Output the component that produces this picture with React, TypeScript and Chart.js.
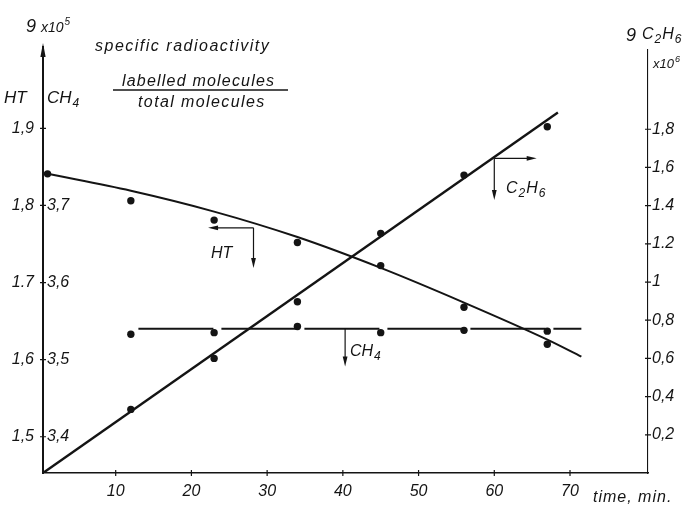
import React, { useEffect, useRef } from "react";
import { Chart, registerables } from "chart.js";

Chart.register(...registerables);

const FONT = '"Liberation Sans", "DejaVu Sans", Arial, sans-serif';
const INK = "#141414";

// axis ticks and labels
const timeTicks = [10, 20, 30, 40, 50, 60, 70];
const htTicks = [1.5, 1.6, 1.7, 1.8, 1.9];
const htTickLabels = ["1,5", "1,6", "1.7", "1,8", "1,9"];
const ch4Ticks = [3.4, 3.5, 3.6, 3.7];
const ch4TickLabels = ["3,4", "3,5", "3,6", "3,7"];
const c2h6Ticks = [0.2, 0.4, 0.6, 0.8, 1.0, 1.2, 1.4, 1.6, 1.8];
const c2h6TickLabels = ["0,2", "0,4", "0,6", "0,8", "1", "1.2", "1.4", "1,6", "1,8"];

// measured points (time in min)
const htTimes = [1, 12, 23, 34, 45, 56, 67];
const htValues = [1.841, 1.806, 1.781, 1.752, 1.722, 1.668, 1.62];
const ch4Times = [12, 23, 34, 45, 56, 67];
const ch4Values = [3.533, 3.535, 3.543, 3.535, 3.538, 3.537];
const c2h6Times = [12, 23, 34, 45, 56, 67];
const c2h6Values = [0.333, 0.6, 0.897, 1.255, 1.56, 1.813];

// hand-drawn curves
const htCurveTimes = [1, 12, 23, 34, 45, 56, 67, 71.5];
const htCurveValues = [1.841, 1.819, 1.792, 1.759, 1.719, 1.674, 1.626, 1.604];
const ch4LineTimes = [13, 71.5];
const ch4LineValues = [3.54, 3.54];
const c2h6LineTimes = [0.4, 68.4];
const c2h6LineValues = [0, 1.888];

// axis ranges
const timeRange = [0.4, 80.3];
const htRange = [1.453, 2.0016];
const ch4Range = [3.353, 3.9016];
const c2h6Range = [0, 2.215];

// label arrows (data coordinates)
const htArrow = { t: 28.2, v: 1.771, tEnd: 22.2, vEnd: 1.719 };
const c2h6Arrow = { t: 60, v: 1.648, tEnd: 65.6, vEnd: 1.43 };
const ch4Arrow = { t: 40.3, v: 3.54, vEnd: 3.491 };

const zip = (xs: number[], ys: number[]) => xs.map((x, i) => ({ x, y: ys[i] }));

const font = (size: number) => `italic ${size}px ${FONT}`;

function arrowHead(ctx: CanvasRenderingContext2D, x: number, y: number, dx: number, dy: number, len = 10, half = 2.4) {
  const bx = x - dx * len;
  const by = y - dy * len;
  ctx.beginPath();
  ctx.moveTo(x, y);
  ctx.lineTo(bx - dy * half, by + dx * half);
  ctx.lineTo(bx + dy * half, by - dx * half);
  ctx.closePath();
  ctx.fill();
}

function chem(ctx: CanvasRenderingContext2D, parts: Array<[string, number]>, x: number, y: number, size: number) {
  // parts: [text, kind] kind 0 normal, 1 subscript, 2 superscript
  let cx = x;
  ctx.textAlign = "left";
  ctx.textBaseline = "alphabetic";
  for (const [txt, kind] of parts) {
    const s = kind === 0 ? size : Math.round(size * 0.72);
    ctx.font = font(s);
    const dy = kind === 1 ? size * 0.22 : kind === 2 ? -size * 0.45 : 0;
    ctx.fillText(txt, cx, y + dy);
    cx += ctx.measureText(txt).width + 1;
  }
}

// draws text glyph by glyph with extra tracking (the reference lettering is widely spaced)
function spaced(ctx: CanvasRenderingContext2D, txt: string, x: number, y: number, spacing: number) {
  ctx.textAlign = "left";
  let cx = x;
  for (const ch of txt) {
    ctx.fillText(ch, cx, y);
    cx += ctx.measureText(ch).width + spacing;
  }
}

const crossTicks = {
  id: "crossTicks",
  afterDraw(chart: any) {
    const ctx: CanvasRenderingContext2D = chart.ctx;
    const { x, yHT, yC2H6 } = chart.scales;
    ctx.save();
    ctx.strokeStyle = INK;
    ctx.lineWidth = 1.2;
    ctx.beginPath();
    for (const t of x.ticks) {
      const px = x.getPixelForValue(t.value);
      ctx.moveTo(px, x.top - 3);
      ctx.lineTo(px, x.top + 3);
    }
    for (const t of yHT.ticks) {
      const py = yHT.getPixelForValue(t.value);
      ctx.moveTo(yHT.right - 3, py);
      ctx.lineTo(yHT.right + 3, py);
    }
    for (const t of yC2H6.ticks) {
      const py = yC2H6.getPixelForValue(t.value);
      ctx.moveTo(yC2H6.left - 3, py);
      ctx.lineTo(yC2H6.left + 3, py);
    }
    ctx.stroke();
    ctx.restore();
  },
};

const annotations = {
  id: "annotations",
  afterDraw(chart: any) {
    const ctx: CanvasRenderingContext2D = chart.ctx;
    const { x, yHT, yCH4, yC2H6 } = chart.scales;
    const area = chart.chartArea;
    ctx.save();
    ctx.fillStyle = INK;
    ctx.strokeStyle = INK;

    // left axis arrow
    ctx.lineWidth = 2;
    ctx.beginPath();
    ctx.moveTo(area.left, area.top + 2);
    ctx.lineTo(area.left, area.top - 4);
    ctx.stroke();
    arrowHead(ctx, area.left, area.top - 7, 0, -1, 14, 2.6);

    // axis titles
    ctx.textAlign = "left";
    ctx.textBaseline = "alphabetic";
    ctx.font = font(18);
    ctx.fillText("9", 26, 32);
    chem(ctx, [["x10", 0], ["5", 2]], 41, 31.5, 14);
    ctx.font = font(17);
    ctx.fillText("HT", 4, 103);
    chem(ctx, [["CH", 0], ["4", 1]], 47, 103, 17);

    ctx.font = font(18);
    ctx.fillText("9", 626, 41);
    chem(ctx, [["C", 0], ["2", 1], ["H", 0], ["6", 1]], 642, 39, 16);
    chem(ctx, [["x10", 0], ["6", 2]], 653, 68, 13);

    // specific radioactivity definition
    ctx.font = font(16);
    spaced(ctx, "specific radioactivity", 95, 51, 1.5);
    spaced(ctx, "labelled molecules", 122, 86, 1.2);
    spaced(ctx, "total molecules", 138, 107, 1.4);
    ctx.lineWidth = 1.3;
    ctx.beginPath();
    ctx.moveTo(113, 90);
    ctx.lineTo(288, 90);
    ctx.stroke();

    // time label
    ctx.font = font(16);
    spaced(ctx, "time, min.", 593, 502, 1);

    // HT arrows
    ctx.lineWidth = 1.2;
    let cx = x.getPixelForValue(htArrow.t);
    let cy = yHT.getPixelForValue(htArrow.v);
    let ex = x.getPixelForValue(htArrow.tEnd);
    let ey = yHT.getPixelForValue(htArrow.vEnd);
    ctx.beginPath();
    ctx.moveTo(cx, cy);
    ctx.lineTo(ex + 6, cy);
    ctx.moveTo(cx, cy);
    ctx.lineTo(cx, ey - 6);
    ctx.stroke();
    arrowHead(ctx, ex, cy, -1, 0);
    arrowHead(ctx, cx, ey, 0, 1);
    ctx.font = font(16);
    ctx.textAlign = "left";
    ctx.fillText("HT", 211, 258);

    // C2H6 arrows
    cx = x.getPixelForValue(c2h6Arrow.t);
    cy = yC2H6.getPixelForValue(c2h6Arrow.v);
    ex = x.getPixelForValue(c2h6Arrow.tEnd);
    ey = yC2H6.getPixelForValue(c2h6Arrow.vEnd);
    ctx.beginPath();
    ctx.moveTo(cx, cy);
    ctx.lineTo(ex - 6, cy);
    ctx.moveTo(cx, cy);
    ctx.lineTo(cx, ey - 6);
    ctx.stroke();
    arrowHead(ctx, ex, cy, 1, 0);
    arrowHead(ctx, cx, ey, 0, 1);
    chem(ctx, [["C", 0], ["2", 1], ["H", 0], ["6", 1]], 506, 193, 16);

    // CH4 arrow
    cx = x.getPixelForValue(ch4Arrow.t);
    cy = yCH4.getPixelForValue(ch4Arrow.v);
    ey = yCH4.getPixelForValue(ch4Arrow.vEnd);
    ctx.beginPath();
    ctx.moveTo(cx, cy);
    ctx.lineTo(cx, ey - 6);
    ctx.stroke();
    arrowHead(ctx, cx, ey, 0, 1);
    chem(ctx, [["CH", 0], ["4", 1]], 350, 356, 16);

    ctx.restore();
  },
};

export default function App() {
  const ref = useRef<HTMLCanvasElement | null>(null);

  useEffect(() => {
    if (!ref.current) return;
    const tickFont = { family: FONT, size: 16, style: "italic" as const };
    const dots = (data: any, axis: string) => ({
      data,
      yAxisID: axis,
      showLine: false,
      pointRadius: 3.7,
      pointBackgroundColor: INK,
      pointBorderWidth: 0,
    });
    const line = (data: any, axis: string, width: number, extra: any = {}) => ({
      data,
      yAxisID: axis,
      showLine: true,
      pointRadius: 0,
      borderColor: INK,
      borderWidth: width,
      fill: false,
      ...extra,
    });

    const chart = new Chart(ref.current, {
      type: "scatter",
      data: {
        datasets: [
          line(zip(htCurveTimes, htCurveValues), "yHT", 2, { cubicInterpolationMode: "monotone" }),
          line(zip(ch4LineTimes, ch4LineValues), "yCH4", 2, { borderDash: [75, 8] }),
          line(zip(c2h6LineTimes, c2h6LineValues), "yC2H6", 2.4),
          dots(zip(htTimes, htValues), "yHT"),
          dots(zip(ch4Times, ch4Values), "yCH4"),
          dots(zip(c2h6Times, c2h6Values), "yC2H6"),
        ] as any,
      },
      options: {
        animation: false,
        responsive: false,
        devicePixelRatio: 1,
        layout: { padding: { top: 50, left: 0, right: 0, bottom: 0 } },
        plugins: { legend: { display: false }, tooltip: { enabled: false } },
        scales: {
          x: {
            type: "linear",
            min: timeRange[0],
            max: timeRange[1],
            afterBuildTicks: (s: any) => {
              s.ticks = timeTicks.map((v) => ({ value: v }));
            },
            afterFit: (s: any) => {
              s.height = 43;
            },
            ticks: { color: INK, font: tickFont, padding: 9, callback: (v: any) => String(v) },
            grid: { display: false, drawTicks: false },
            border: { display: true, color: INK, width: 1.4 },
          },
          yHT: {
            type: "linear",
            position: "left",
            weight: 10,
            min: htRange[0],
            max: htRange[1],
            afterBuildTicks: (s: any) => {
              s.ticks = htTicks.map((v) => ({ value: v }));
            },
            afterFit: (s: any) => {
              s.width = 43;
            },
            ticks: { color: INK, font: tickFont, padding: 9, callback: (_v: any, i: number) => htTickLabels[i] },
            grid: { display: false, drawTicks: false },
            border: { display: true, color: INK, width: 2 },
          },
          yCH4: {
            type: "linear",
            position: "left",
            weight: 0,
            min: ch4Range[0],
            max: ch4Range[1],
            afterBuildTicks: (s: any) => {
              s.ticks = ch4Ticks.map((v) => ({ value: v }));
            },
            afterFit: (s: any) => {
              s.width = 0;
            },
            ticks: { color: INK, font: tickFont, mirror: true, padding: 4, callback: (_v: any, i: number) => ch4TickLabels[i] },
            grid: { display: false, drawTicks: false },
            border: { display: false },
          },
          yC2H6: {
            type: "linear",
            position: "right",
            min: c2h6Range[0],
            max: c2h6Range[1],
            afterBuildTicks: (s: any) => {
              s.ticks = c2h6Ticks.map((v) => ({ value: v }));
            },
            afterFit: (s: any) => {
              s.width = 43;
            },
            ticks: { color: INK, font: tickFont, padding: 4, callback: (_v: any, i: number) => c2h6TickLabels[i] },
            grid: { display: false, drawTicks: false },
            border: { display: true, color: INK, width: 1.1 },
          },
        },
      } as any,
      plugins: [crossTicks, annotations],
    });
    return () => chart.destroy();
  }, []);

  return (
    <div style={{ position: "fixed", left: 0, top: 0, width: 691, height: 516, background: "#fff" }}>
      <canvas ref={ref} width={691} height={516} style={{ display: "block", width: 691, height: 516 }} />
    </div>
  );
}
